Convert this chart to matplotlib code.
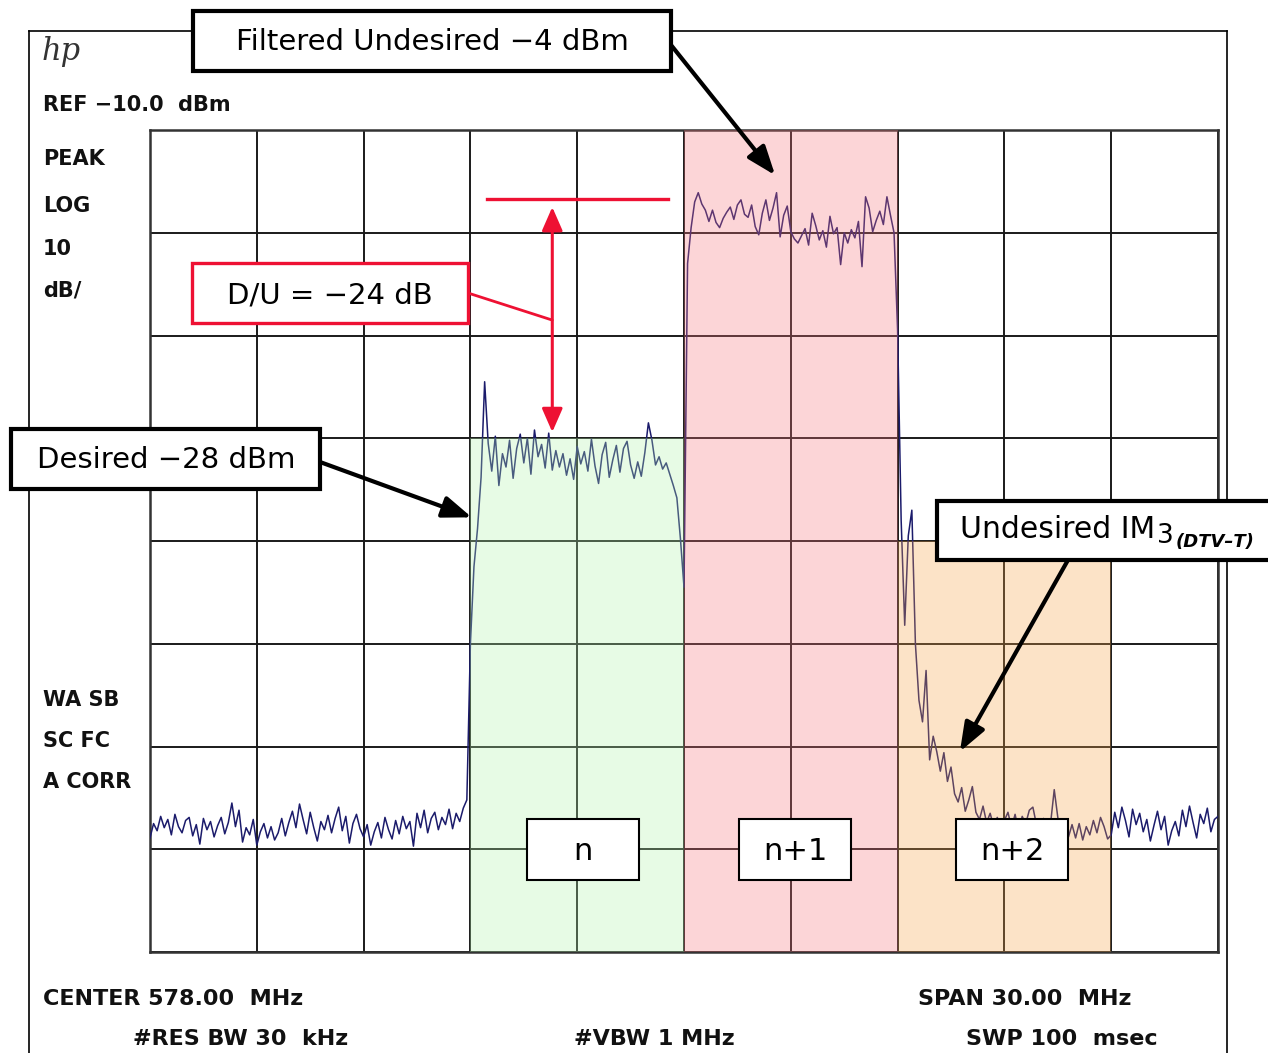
import numpy as np
import matplotlib
matplotlib.use("Agg")
import matplotlib.pyplot as plt
from matplotlib.patches import Rectangle
from matplotlib.lines import Line2D

# sweep: center 578 MHz, span 30 MHz, ref -10 dBm, 10 dB/div
f_start = 563.0
f_step = 0.1

# trace levels in dBm, one value per 0.1 MHz
floor_left = [  # 563.0 - 571.9
    -78.9, -77.5, -78.2, -76.8, -77.9, -77.1, -78.6, -76.6, -77.8, -78.4,
    -77.2, -76.9, -78.7, -77.6, -79.5, -77.0, -78.1, -77.3, -78.8, -77.7,
    -76.9, -78.5, -77.4, -75.5, -77.8, -76.2, -79.3, -77.9, -78.6, -77.1,
    -79.6, -78.3, -77.5, -78.9, -77.8, -79.1, -78.4, -77.0, -78.7, -77.4,
    -76.3, -77.9, -75.6, -77.1, -78.5, -76.4, -77.9, -79.2, -77.3, -78.1,
    -76.7, -78.4, -77.0, -75.9, -78.2, -76.8, -79.4, -77.5, -76.6, -78.0,
    -78.8, -77.6, -79.6, -78.3, -77.4, -78.9, -76.9, -78.1, -79.0, -77.2,
    -78.5, -76.8, -78.0, -77.3, -79.7, -76.5, -77.9, -76.2, -78.4, -77.0,
    -76.4, -78.1, -76.9, -77.6, -76.1, -78.0, -76.5, -77.3, -76.0, -75.2,
]
chan_n = [  # 572.0 - 577.9, desired
    -60.0, -52.5, -48.8, -43.8, -34.5, -40.5, -43.2, -39.8, -44.6, -41.5,
    -42.8, -40.2, -43.9, -41.0, -39.6, -42.4, -40.0, -43.5, -39.2, -41.8,
    -40.6, -42.9, -39.5, -43.1, -41.2, -42.8, -41.5, -43.6, -42.0, -44.0,
    -40.8, -42.5, -41.3, -43.2, -40.1, -42.7, -44.4, -41.6, -40.4, -43.8,
    -42.1, -40.7, -43.3, -41.0, -40.3, -42.6, -43.9, -42.3, -43.7, -41.4,
    -38.5, -40.2, -42.6, -41.8, -43.0, -42.4, -43.5, -44.6, -45.8, -49.8,
]
chan_n1 = [  # 578.0 - 583.9, filtered undesired
    -54.5, -23.0, -19.5, -17.0, -16.1, -17.2, -17.8, -18.9, -17.8, -19.0,
    -19.5, -18.6, -18.0, -17.5, -18.7, -17.3, -16.8, -18.2, -18.5, -17.3,
    -19.4, -20.2, -18.1, -16.8, -18.8, -17.6, -16.1, -20.4, -18.3, -17.4,
    -19.9, -20.6, -21.0, -20.3, -19.6, -21.2, -18.1, -19.3, -20.7, -19.8,
    -21.4, -18.4, -20.1, -19.5, -23.1, -20.0, -21.0, -19.7, -20.5, -18.9,
    -23.3, -16.5, -17.6, -19.9, -18.8, -17.9, -19.2, -16.5, -18.3, -20.0,
]
chan_n2 = [  # 584.0 - 589.9, IM3 skirt
    -29.5, -48.0, -58.2, -49.5, -47.0, -60.0, -65.5, -67.6, -62.6, -71.3,
    -69.0, -70.5, -72.4, -70.6, -73.4, -72.0, -74.6, -75.4, -74.0, -76.3,
    -75.2, -73.9, -76.4, -77.1, -75.8, -77.4, -76.5, -77.8, -76.9, -78.0,
    -77.2, -76.4, -77.9, -76.6, -78.2, -76.8, -77.5, -76.2, -75.9, -77.6,
    -78.3, -77.0, -78.5, -77.4, -74.2, -76.9, -78.4, -77.3, -78.8, -77.6,
    -78.9, -77.5, -79.1, -77.8, -78.6, -77.2, -78.4, -76.9, -77.8, -79.0,
]
floor_right = [  # 590.0 - 593.0
    -78.6, -76.4, -77.9, -75.9, -77.2, -78.8, -76.1, -77.6, -76.5, -78.3,
    -77.1, -79.2, -77.7, -76.3, -78.1, -76.8, -79.6, -78.2, -77.3, -78.7,
    -76.2, -77.8, -75.8, -77.4, -78.9, -76.6, -77.5, -76.0, -78.3, -77.1,
    -76.8,
]

channel_names = ["n", "n+1", "n+2"]
channel_lo = [572, 578, 584]
channel_hi = [578, 584, 590]
channel_top = [-40, -10, -50]
channel_colors = ["#b2f2ac", "#f8767d", "#f8a548"]

# D/U marker
du_freq = 574.3
du_top = -17.5
du_bottom = -39.4
du_line_level = -16.7
du_line_from = 572.47
du_line_to = 577.55

level = np.array(floor_left + chan_n + chan_n1 + chan_n2 + floor_right)
freq = f_start + f_step * np.arange(len(level))

W, H = 1268, 1053
fig = plt.figure(figsize=(W / 100, H / 100), dpi=100)
ax = fig.add_axes([150 / W, 1 - 952 / H, 1068 / W, 822 / H])

ax.plot(freq, level, color="#1b1b6b", lw=1.1, zorder=2)
for lo, hi, top, c in zip(channel_lo, channel_hi, channel_top, channel_colors):
    ax.fill_between([lo, hi], [top, top], -90, color=c, alpha=0.3, lw=0, zorder=3)

ax.set_xlim(563, 593)
ax.set_ylim(-90, -10)
ax.set_xticks(np.arange(563, 594, 3))
ax.set_yticks(np.arange(-90, -9, 10))
ax.tick_params(length=0, labelbottom=False, labelleft=False)
ax.grid(color="#1a1a1a", lw=1.4)
ax.set_axisbelow(True)
for s in ax.spines.values():
    s.set_linewidth(1.8)
    s.set_color("#333333")
    s.set_zorder(1)

red = "#ee1133"
ax.plot([du_line_from, du_line_to], [du_line_level, du_line_level], color=red, lw=2.4, zorder=5)
ax.annotate("", xy=(du_freq, du_bottom), xytext=(du_freq, du_top),
            arrowprops=dict(arrowstyle="<|-|>,head_length=0.8,head_width=0.35",
                            color=red, lw=2.2, mutation_scale=18, shrinkA=0, shrinkB=0),
            zorder=5)
ax.annotate("", xy=(du_freq, -28.5), xytext=(468, H - 293), textcoords="figure pixels",
            arrowprops=dict(arrowstyle="-", color=red, lw=2.0, shrinkA=0, shrinkB=0))

# black callout arrows
arr = dict(arrowstyle="-|>,head_length=0.8,head_width=0.3", color="black", lw=3,
           mutation_scale=22, shrinkA=0, shrinkB=0)
ax.annotate("", xy=(580.56, -14.4), xytext=(671, H - 45), textcoords="figure pixels", arrowprops=arr)
ax.annotate("", xy=(572.04, -47.7), xytext=(320, H - 462), textcoords="figure pixels", arrowprops=arr)
ax.annotate("", xy=(585.75, -70.5), xytext=(1068, H - 560), textcoords="figure pixels", arrowprops=arr)

# outer instrument frame
for xs, ys in [([29, 29], [31, 1060]), ([1227, 1227], [31, 1060]), ([29, 1227], [31, 31])]:
    fig.add_artist(Line2D([x / W for x in xs], [1 - y / H for y in ys], color="black",
                          lw=1.2, transform=fig.transFigure, zorder=-1))


def box(x0, y0, x1, y1, ec="black", lw=3):
    fig.add_artist(Rectangle((x0 / W, 1 - y1 / H), (x1 - x0) / W, (y1 - y0) / H,
                             transform=fig.transFigure, fc="white", ec=ec, lw=lw, zorder=2))


def label(x, y, s, size=21, ha="center", **kw):
    return fig.text(x / W, 1 - y / H, s, fontsize=size, ha=ha, va="baseline", zorder=3, **kw)


box(193, 11, 671, 71)
label(432, 50, "Filtered Undesired \u22124 dBm")
box(192, 263, 468, 323, ec=red, lw=2.4)
label(330, 303, "D/U = \u221224 dB")
box(11, 429, 320, 489)
label(166, 468, "Desired \u221228 dBm")
box(937, 501, 1275, 560)

# "Undesired IM" + "3" + "(DTV-T)" chained one after another
renderer = fig.canvas.get_renderer()
t = label(960, 538, "Undesired IM", size=21.5, ha="left")
x_end = t.get_window_extent(renderer).x1
t = label(x_end + 2, 543, "3", size=19, ha="left")
x_end = t.get_window_extent(renderer).x1
label(x_end + 2, 547, "(DTV\u2013T)", size=13, ha="left", style="italic", weight="bold")

name_x = [583, 795, 1012]
for name, cx in zip(channel_names, name_x):
    box(cx - 56, 819, cx + 56, 880, lw=1.5)
    label(cx, 860, name, size=22)

# instrument annotations
inst = dict(family="DejaVu Sans", weight="bold", color="#111111")
for y, s in [(111, "REF \u221210.0  dBm"), (165, "PEAK"), (212, "LOG"), (255, "10"),
             (296, "dB/"), (706, "WA SB"), (747, "SC FC"), (788, "A CORR")]:
    label(43, y, s, size=15, ha="left", **inst)
for x, y, s in [(43, 1005, "CENTER 578.00  MHz"), (918, 1005, "SPAN 30.00  MHz"),
                (133, 1045, "#RES BW 30  kHz"), (574, 1045, "#VBW 1 MHz"),
                (966, 1045, "SWP 100  msec")]:
    label(x, y, s, size=16, ha="left", **inst)
label(42, 60, "hp", size=22, ha="left", family="DejaVu Serif", style="italic", color="#333333")

fig.savefig("out.png", dpi=100)
